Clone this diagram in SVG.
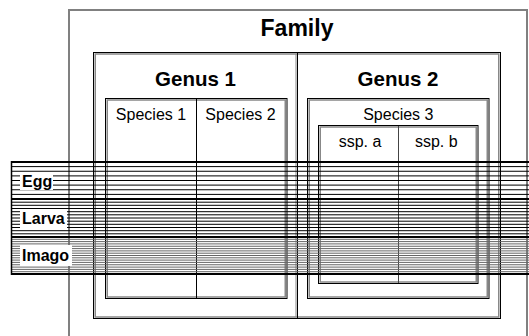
<svg xmlns="http://www.w3.org/2000/svg" width="529" height="336" viewBox="0 0 529 336">
<style>
.bx{fill:none;stroke:#000;stroke-width:1}
.sh{fill:none;stroke:#888;stroke-width:1.5}
.dv{stroke:#000;stroke-width:1}
.t{font-family:"Liberation Sans",Arial,sans-serif;text-anchor:middle;fill:#000}
.b{font-weight:bold}
.st{stroke:#000;stroke-width:1;fill:none}
.lb{fill:#fff}
.ll{font-family:"Liberation Sans",Arial,sans-serif;font-weight:bold;font-size:16px;fill:#000}
</style>
<rect width="529" height="336" fill="#fff"/>
<g id="family">
<rect x="69" y="10" width="458" height="340" fill="none" stroke="#808080" stroke-width="2"/>
<text class="t b" x="297" y="36" font-size="23">Family</text>
</g>
<g id="genera">
<rect class="bx" x="93.5" y="52.5" width="407" height="266"/>
<rect class="sh" x="95.25" y="54" width="403.5" height="263"/>
<line class="dv" x1="297.5" y1="52.5" x2="297.5" y2="318.5"/>
<line x1="296" y1="54" x2="296" y2="317" stroke="#888" stroke-width="1"/>
</g>
<g id="genus1">
<text class="t b" x="195.5" y="86" font-size="20.5">Genus 1</text>
</g>
<g id="genus2">
<text class="t b" x="398" y="86" font-size="20.5">Genus 2</text>
</g>
<g id="genus1-species">
<rect class="bx" x="105.5" y="98.5" width="181.5" height="200"/>
<rect class="sh" x="107.25" y="100" width="178" height="197"/>
<line class="dv" x1="196.5" y1="99" x2="196.5" y2="298"/>
</g>
<g id="species1"><text class="t" x="151" y="120" font-size="16">Species 1</text></g>
<g id="species2"><text class="t" x="240.5" y="120" font-size="16">Species 2</text></g>
<g id="species3">
<rect class="bx" x="307.5" y="98.5" width="181.5" height="200"/>
<rect class="sh" x="309.25" y="100" width="178" height="197"/>
<text class="t" x="398.3" y="119.5" font-size="16">Species 3</text>
</g>
<g id="subspecies">
<rect class="bx" x="318.5" y="125.5" width="159.5" height="158"/>
<rect class="sh" x="320.25" y="127" width="156" height="155"/>
<line x1="398.5" y1="126" x2="398.5" y2="283" stroke="#444" stroke-width="1"/>
</g>
<g id="ssp-a"><text class="t" x="360" y="147" font-size="16">ssp. a</text></g>
<g id="ssp-b"><text class="t" x="436.3" y="147" font-size="16">ssp. b</text></g>
<g id="connectors">
<path class="st" d="M11 166.6H529M11 171.25H529M11 175.9H529M11 180.5H529M11 185.1H529M11 189.75H529M11 194.4H529"/>
<path class="st" d="M11 202.2H529M11 205.3H529M11 208.5H529M11 211.7H529M11 214.8H529M11 218H529M11 221.2H529M11 224.3H529M11 227.5H529M11 230.7H529M11 233.8H529"/>
<path stroke="#666" stroke-width="1" fill="none" d="M11 239.3H529M11 241.6H529M11 243.9H529M11 246.25H529M11 248.6H529M11 250.9H529M11 253.2H529M11 255.5H529M11 257.8H529M11 260.1H529M11 262.4H529M11 264.75H529M11 267.1H529M11 269.4H529M11 271.7H529"/>
<path stroke="#000" stroke-width="2" fill="none" d="M11 162H529M11 199H529M11 237H529M11 274H529"/>
<line x1="11.5" y1="161" x2="11.5" y2="275" stroke="#000" stroke-width="1.5"/>
</g>
<g id="egg">
<rect class="lb" x="20" y="172" width="33" height="18"/>
<text class="ll" x="22" y="187">Egg</text>
</g>
<g id="larva">
<rect class="lb" x="20" y="209" width="47" height="19"/>
<text class="ll" x="22" y="224">Larva</text>
</g>
<g id="imago">
<rect class="lb" x="20" y="245" width="52" height="21"/>
<text class="ll" x="22" y="261">Imago</text>
</g>
</svg>
